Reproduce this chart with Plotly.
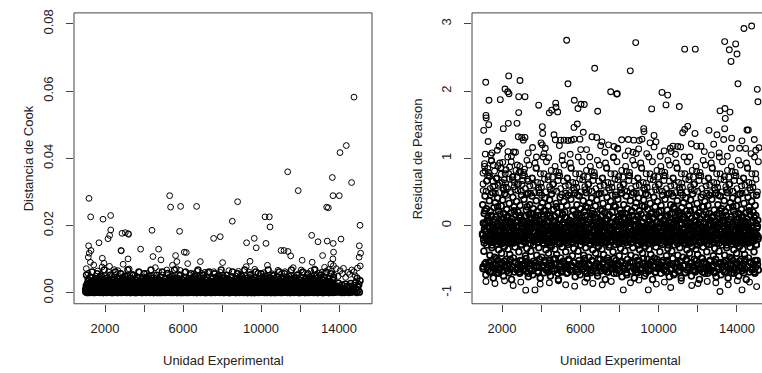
import plotly.graph_objects as go

# ---------------- values read (estimated) from the picture ----------------
# Unit identifiers (Unidad Experimental) shared by both panels
unidad_a = [
    1008, 1037, 1066, 1094, 1125, 1153, 1184, 1211, 1243, 1272,
    1315, 1344, 1371, 1403, 1430, 1462, 1489, 1519, 1548, 1581,
    1603, 1631, 1660, 1688, 1719, 1747, 1776, 1806, 1833, 1864,
    1908, 1937, 1966, 1994, 2025, 2053, 2084, 2111, 2143, 2172,
    2215, 2244, 2271, 2303, 2330, 2362, 2389, 2419, 2448, 2481,
    2503, 2531, 2560, 2588, 2619, 2647, 2676, 2706, 2733, 2764,
    2808, 2837, 2866, 2894, 2925, 2953, 2984, 3011, 3043, 3072,
    3115, 3144, 3171, 3203, 3230, 3262, 3289, 3319, 3348, 3381,
    3403, 3431, 3460, 3488, 3519, 3547, 3576, 3606, 3633, 3664,
    3708, 3737, 3766, 3794, 3825, 3853, 3884, 3911, 3943, 3972,
    4015, 4044, 4071, 4103, 4130, 4162, 4189, 4219, 4248, 4281,
    4303, 4331, 4360, 4388, 4419, 4447, 4476, 4506, 4533, 4564,
    4608, 4637, 4666, 4694, 4725, 4753, 4784, 4811, 4843, 4872,
    4915, 4944, 4971, 5003, 5030, 5062, 5089, 5119, 5148, 5181,
    5203, 5231, 5260, 5288, 5319, 5347, 5376, 5406, 5433, 5464,
    5508, 5537, 5566, 5594, 5625, 5653, 5684, 5711, 5743, 5772,
    5815, 5844, 5871, 5903, 5930, 5962, 5989, 6019, 6048, 6081,
    6103, 6131, 6160, 6188, 6219, 6247, 6276, 6306, 6333, 6364,
    6408, 6437, 6466, 6494, 6525, 6553, 6584, 6611, 6643, 6672,
    6715, 6744, 6771, 6803, 6830, 6862, 6889, 6919, 6948, 6981,
    7003, 7031, 7060, 7088, 7119, 7147, 7176, 7206, 7233, 7264,
    7308, 7337, 7366, 7394, 7425, 7453, 7484, 7511, 7543, 7572,
    7615, 7644, 7671, 7703, 7730, 7762, 7789, 7819, 7848, 7881,
    7903, 7931, 7960, 7988, 8019, 8047, 8076, 8106, 8133, 8164,
    8208, 8237, 8266, 8294, 8325, 8353, 8384, 8411, 8443, 8472,
    8515, 8544, 8571, 8603, 8630, 8662, 8689, 8719, 8748, 8781,
    8803, 8831, 8860, 8888, 8919, 8947, 8976, 9006, 9033, 9064,
    9108, 9137, 9166, 9194, 9225, 9253, 9284, 9311, 9343, 9372,
    9415, 9444, 9471, 9503, 9530, 9562, 9589, 9619, 9648, 9681,
    9703, 9731, 9760, 9788, 9819, 9847, 9876, 9906, 9933, 9964,
    10008, 10037, 10066, 10094, 10125, 10153, 10184, 10211, 10243, 10272,
    10315, 10344, 10371, 10403, 10430, 10462, 10489, 10519, 10548, 10581,
    10603, 10631, 10660, 10688, 10719, 10747, 10776, 10806, 10833, 10864,
    10908, 10937, 10966, 10994, 11025, 11053, 11084, 11111, 11143, 11172,
    11215, 11244, 11271, 11303, 11330, 11362, 11389, 11419, 11448, 11481,
    11503, 11531, 11560, 11588, 11619, 11647, 11676, 11706, 11733, 11764,
    11808, 11837, 11866, 11894, 11925, 11953, 11984, 12011, 12043, 12072,
    12115, 12144, 12171, 12203, 12230, 12262, 12289, 12319, 12348, 12381,
    12403, 12431, 12460, 12488, 12519, 12547, 12576, 12606, 12633, 12664,
    12708, 12737, 12766, 12794, 12825, 12853, 12884, 12911, 12943, 12972,
    13015, 13044, 13071, 13103, 13130, 13162, 13189, 13219, 13248, 13281,
    13303, 13331, 13360, 13388, 13419, 13447, 13476, 13506, 13533, 13564,
    13608, 13637, 13666, 13694, 13725, 13753, 13784, 13811, 13843, 13872,
    13915, 13944, 13971, 14003, 14030, 14062, 14089, 14119, 14148, 14181,
    14203, 14231, 14260, 14288, 14319, 14347, 14376, 14406, 14433, 14464,
    14508, 14537, 14566, 14594, 14625, 14653, 14684, 14711, 14743, 14772,
    14815, 14844, 14871, 14903, 14930, 14962, 14989, 15019, 15048, 15081]

unidad_b = [
    1040, 1130, 1250, 1330, 1420, 1560, 1620, 1740, 1850, 1950, 2060, 2180,
    2230, 2340, 2470, 2540, 2660, 2770, 2810, 2930, 3060, 3150, 3240, 3380,
    3420, 3550, 3670, 3760, 3850, 3980, 4030, 4140, 4270, 4350, 4460, 4580,
    4620, 4750, 4860, 4940, 5050, 5170, 5230, 5340, 5460, 5520, 5650, 5770,
    5850, 5960, 6080, 6120, 6240, 6370, 6440, 6560, 6650, 6730, 6850, 6970,
    7010, 7120, 7260, 7350, 7440, 7580, 7630, 7760, 7870, 7920, 8050, 8170,
    8260, 8350, 8480, 8520, 8640, 8770, 8840, 8950, 9080, 9130, 9240, 9370,
    9450, 9560, 9680, 9720, 9850, 9960, 10040, 10150, 10270, 10330, 10450, 10560,
    10620, 10740, 10870, 10950, 11060, 11180, 11230, 11340, 11470, 11540, 11650, 11770,
    11820, 11940, 12060, 12150, 12260, 12380, 12420, 12550, 12660, 12740, 12850, 12970,
    13030, 13140, 13260, 13340, 13450, 13580, 13620, 13740, 13860, 13950, 14060, 14170,
    14230, 14340, 14470, 14540, 14650, 14770, 14830, 14950, 15090]

unidad_c = [
    1004, 1018, 1033, 1047, 1062, 1076, 1091, 1105, 1121, 1134, 1150, 1163, 1179, 1192, 1208, 1222, 1237, 1251, 1266, 1281,
    1310, 1324, 1339, 1353, 1369, 1382, 1398, 1411, 1427, 1441, 1456, 1470, 1485, 1499, 1514, 1529, 1543, 1558, 1572, 1588,
    1601, 1615, 1629, 1644, 1657, 1673, 1686, 1702, 1715, 1731, 1744, 1760, 1773, 1789, 1802, 1817, 1831, 1846, 1860, 1875,
    1904, 1918, 1933, 1947, 1962, 1976, 1991, 2005, 2021, 2034, 2050, 2063, 2079, 2092, 2108, 2122, 2137, 2151, 2166, 2181,
    2210, 2224, 2239, 2253, 2269, 2282, 2298, 2311, 2327, 2341, 2356, 2370, 2385, 2399, 2414, 2429, 2443, 2458, 2472, 2488,
    2501, 2515, 2529, 2544, 2557, 2573, 2586, 2602, 2615, 2631, 2644, 2660, 2673, 2689, 2702, 2717, 2731, 2746, 2760, 2775,
    2804, 2818, 2833, 2847, 2862, 2876, 2891, 2905, 2921, 2934, 2950, 2963, 2979, 2992, 3008, 3022, 3037, 3051, 3066, 3081,
    3110, 3124, 3139, 3153, 3169, 3182, 3198, 3211, 3227, 3241, 3256, 3270, 3285, 3299, 3314, 3329, 3343, 3358, 3372, 3388,
    3401, 3415, 3429, 3444, 3457, 3473, 3486, 3502, 3515, 3531, 3544, 3560, 3573, 3589, 3602, 3617, 3631, 3646, 3660, 3675,
    3704, 3718, 3733, 3747, 3762, 3776, 3791, 3805, 3821, 3834, 3850, 3863, 3879, 3892, 3908, 3922, 3937, 3951, 3966, 3981,
    4010, 4024, 4039, 4053, 4069, 4082, 4098, 4111, 4127, 4141, 4156, 4170, 4185, 4199, 4214, 4229, 4243, 4258, 4272, 4288,
    4301, 4315, 4329, 4344, 4357, 4373, 4386, 4402, 4415, 4431, 4444, 4460, 4473, 4489, 4502, 4517, 4531, 4546, 4560, 4575,
    4604, 4618, 4633, 4647, 4662, 4676, 4691, 4705, 4721, 4734, 4750, 4763, 4779, 4792, 4808, 4822, 4837, 4851, 4866, 4881,
    4910, 4924, 4939, 4953, 4969, 4982, 4998, 5011, 5027, 5041, 5056, 5070, 5085, 5099, 5114, 5129, 5143, 5158, 5172, 5188,
    5201, 5215, 5229, 5244, 5257, 5273, 5286, 5302, 5315, 5331, 5344, 5360, 5373, 5389, 5402, 5417, 5431, 5446, 5460, 5475,
    5504, 5518, 5533, 5547, 5562, 5576, 5591, 5605, 5621, 5634, 5650, 5663, 5679, 5692, 5708, 5722, 5737, 5751, 5766, 5781,
    5810, 5824, 5839, 5853, 5869, 5882, 5898, 5911, 5927, 5941, 5956, 5970, 5985, 5999, 6014, 6029, 6043, 6058, 6072, 6088,
    6101, 6115, 6129, 6144, 6157, 6173, 6186, 6202, 6215, 6231, 6244, 6260, 6273, 6289, 6302, 6317, 6331, 6346, 6360, 6375,
    6404, 6418, 6433, 6447, 6462, 6476, 6491, 6505, 6521, 6534, 6550, 6563, 6579, 6592, 6608, 6622, 6637, 6651, 6666, 6681,
    6710, 6724, 6739, 6753, 6769, 6782, 6798, 6811, 6827, 6841, 6856, 6870, 6885, 6899, 6914, 6929, 6943, 6958, 6972, 6988,
    7001, 7015, 7029, 7044, 7057, 7073, 7086, 7102, 7115, 7131, 7144, 7160, 7173, 7189, 7202, 7217, 7231, 7246, 7260, 7275,
    7304, 7318, 7333, 7347, 7362, 7376, 7391, 7405, 7421, 7434, 7450, 7463, 7479, 7492, 7508, 7522, 7537, 7551, 7566, 7581,
    7610, 7624, 7639, 7653, 7669, 7682, 7698, 7711, 7727, 7741, 7756, 7770, 7785, 7799, 7814, 7829, 7843, 7858, 7872, 7888,
    7901, 7915, 7929, 7944, 7957, 7973, 7986, 8002, 8015, 8031, 8044, 8060, 8073, 8089, 8102, 8117, 8131, 8146, 8160, 8175,
    8204, 8218, 8233, 8247, 8262, 8276, 8291, 8305, 8321, 8334, 8350, 8363, 8379, 8392, 8408, 8422, 8437, 8451, 8466, 8481,
    8510, 8524, 8539, 8553, 8569, 8582, 8598, 8611, 8627, 8641, 8656, 8670, 8685, 8699, 8714, 8729, 8743, 8758, 8772, 8788,
    8801, 8815, 8829, 8844, 8857, 8873, 8886, 8902, 8915, 8931, 8944, 8960, 8973, 8989, 9002, 9017, 9031, 9046, 9060, 9075,
    9104, 9118, 9133, 9147, 9162, 9176, 9191, 9205, 9221, 9234, 9250, 9263, 9279, 9292, 9308, 9322, 9337, 9351, 9366, 9381,
    9410, 9424, 9439, 9453, 9469, 9482, 9498, 9511, 9527, 9541, 9556, 9570, 9585, 9599, 9614, 9629, 9643, 9658, 9672, 9688,
    9701, 9715, 9729, 9744, 9757, 9773, 9786, 9802, 9815, 9831, 9844, 9860, 9873, 9889, 9902, 9917, 9931, 9946, 9960, 9975,
    10004, 10018, 10033, 10047, 10062, 10076, 10091, 10105, 10121, 10134, 10150, 10163, 10179, 10192, 10208, 10222, 10237, 10251, 10266, 10281,
    10310, 10324, 10339, 10353, 10369, 10382, 10398, 10411, 10427, 10441, 10456, 10470, 10485, 10499, 10514, 10529, 10543, 10558, 10572, 10588,
    10601, 10615, 10629, 10644, 10657, 10673, 10686, 10702, 10715, 10731, 10744, 10760, 10773, 10789, 10802, 10817, 10831, 10846, 10860, 10875,
    10904, 10918, 10933, 10947, 10962, 10976, 10991, 11005, 11021, 11034, 11050, 11063, 11079, 11092, 11108, 11122, 11137, 11151, 11166, 11181,
    11210, 11224, 11239, 11253, 11269, 11282, 11298, 11311, 11327, 11341, 11356, 11370, 11385, 11399, 11414, 11429, 11443, 11458, 11472, 11488,
    11501, 11515, 11529, 11544, 11557, 11573, 11586, 11602, 11615, 11631, 11644, 11660, 11673, 11689, 11702, 11717, 11731, 11746, 11760, 11775,
    11804, 11818, 11833, 11847, 11862, 11876, 11891, 11905, 11921, 11934, 11950, 11963, 11979, 11992, 12008, 12022, 12037, 12051, 12066, 12081,
    12110, 12124, 12139, 12153, 12169, 12182, 12198, 12211, 12227, 12241, 12256, 12270, 12285, 12299, 12314, 12329, 12343, 12358, 12372, 12388,
    12401, 12415, 12429, 12444, 12457, 12473, 12486, 12502, 12515, 12531, 12544, 12560, 12573, 12589, 12602, 12617, 12631, 12646, 12660, 12675,
    12704, 12718, 12733, 12747, 12762, 12776, 12791, 12805, 12821, 12834, 12850, 12863, 12879, 12892, 12908, 12922, 12937, 12951, 12966, 12981,
    13010, 13024, 13039, 13053, 13069, 13082, 13098, 13111, 13127, 13141, 13156, 13170, 13185, 13199, 13214, 13229, 13243, 13258, 13272, 13288,
    13301, 13315, 13329, 13344, 13357, 13373, 13386, 13402, 13415, 13431, 13444, 13460, 13473, 13489, 13502, 13517, 13531, 13546, 13560, 13575,
    13604, 13618, 13633, 13647, 13662, 13676, 13691, 13705, 13721, 13734, 13750, 13763, 13779, 13792, 13808, 13822, 13837, 13851, 13866, 13881,
    13910, 13924, 13939, 13953, 13969, 13982, 13998, 14011, 14027, 14041, 14056, 14070, 14085, 14099, 14114, 14129, 14143, 14158, 14172, 14188,
    14201, 14215, 14229, 14244, 14257, 14273, 14286, 14302, 14315, 14331, 14344, 14360, 14373, 14389, 14402, 14417, 14431, 14446, 14460, 14475,
    14504, 14518, 14533, 14547, 14562, 14576, 14591, 14605, 14621, 14634, 14650, 14663, 14679, 14692, 14708, 14722, 14737, 14751, 14766, 14781,
    14810, 14824, 14839, 14853, 14869, 14882, 14898, 14911, 14927, 14941, 14956, 14970, 14985, 14999, 15014, 15029, 15043, 15058, 15072, 15088]

# ---------------- Cook's distance ----------------
cook_out_x = [
    14769, 14374, 14051, 11368, 13657, 14646, 11908, 13692, 14015, 1179,
    5316, 5364, 5877, 6697, 8800, 13368, 13453, 1265, 1897, 2290,
    8528, 10205, 10427, 10461, 15077, 5825, 4410, 2295, 2239, 2154,
    2872, 3042, 3195, 3210, 7570, 7909, 12599, 14102, 1692, 1159,
    2820, 2835, 3825, 4748, 9261, 9756, 9653, 10256, 11026, 11180,
    11385, 11522, 12923, 13395, 13703, 15041, 15108, 15030, 13720, 13688,
    13715, 8031, 12112, 12625, 13159, 6066, 6169, 9436, 6888, 5620,
    5687, 3180, 4461, 4871, 1862, 1141, 1192, 1282]
cook_out_y = [
    0.0582, 0.0438, 0.0417, 0.0360, 0.0343, 0.0328, 0.0304, 0.0289, 0.0289, 0.0281,
    0.0289, 0.0255, 0.0257, 0.0257, 0.0271, 0.0255, 0.0253, 0.0226, 0.0219, 0.0230,
    0.0213, 0.0226, 0.0226, 0.0196, 0.0201, 0.0183, 0.0186, 0.0187, 0.0171, 0.0161,
    0.0177, 0.0179, 0.0176, 0.0174, 0.0162, 0.0167, 0.0171, 0.0160, 0.0149, 0.0140,
    0.0126, 0.0125, 0.0130, 0.0130, 0.0149, 0.0134, 0.0162, 0.0147, 0.0126, 0.0126,
    0.0123, 0.0110, 0.0152, 0.0154, 0.0147, 0.0140, 0.0118, 0.0106, 0.0121, 0.0101,
    0.0081, 0.0090, 0.0097, 0.0091, 0.0111, 0.0121, 0.0120, 0.0094, 0.0093, 0.0111,
    0.0093, 0.0101, 0.0108, 0.0098, 0.0103, 0.0106, 0.0118, 0.0126]

cook_mid_y = [  # paired with unidad_b
    0.0072, 0.0058, 0.0091, 0.0046, 0.0083, 0.0039, 0.0065, 0.0051, 0.0077, 0.0088, 0.0043, 0.0062,
    0.0079, 0.0054, 0.0069, 0.0041, 0.0066, 0.0048, 0.0057, 0.0085, 0.0038, 0.0049, 0.0071, 0.0056,
    0.0036, 0.0052, 0.0044, 0.0061, 0.0039, 0.0047, 0.0034, 0.0058, 0.0042, 0.0050, 0.0037, 0.0075,
    0.0045, 0.0063, 0.0035, 0.0053, 0.0041, 0.0068, 0.0059, 0.0048, 0.0082, 0.0044, 0.0072, 0.0055,
    0.0067, 0.0038, 0.0061, 0.0046, 0.0087, 0.0052, 0.0040, 0.0057, 0.0049, 0.0064, 0.0036, 0.0058,
    0.0052, 0.0061, 0.0060, 0.0037, 0.0048, 0.0063, 0.0056, 0.0042, 0.0039, 0.0061, 0.0053, 0.0045,
    0.0043, 0.0066, 0.0035, 0.0049, 0.0037, 0.0058, 0.0064, 0.0054, 0.0041, 0.0036, 0.0078, 0.0062,
    0.0055, 0.0045, 0.0070, 0.0047, 0.0059, 0.0051, 0.0038, 0.0060, 0.0043, 0.0082, 0.0046, 0.0057,
    0.0050, 0.0039, 0.0067, 0.0041, 0.0058, 0.0048, 0.0063, 0.0044, 0.0036, 0.0052, 0.0075, 0.0047,
    0.0039, 0.0057, 0.0068, 0.0060, 0.0042, 0.0053, 0.0048, 0.0065, 0.0044, 0.0071, 0.0050, 0.0059,
    0.0045, 0.0062, 0.0076, 0.0058, 0.0069, 0.0086, 0.0064, 0.0053, 0.0072, 0.0049, 0.0066, 0.0057,
    0.0073, 0.0046, 0.0061, 0.0055, 0.0068, 0.0063, 0.0051, 0.0074, 0.0080]

cook_band_y = [  # paired with unidad_a
    0.0003, 0.0012, 0.0001, 0.0021, 0.0006, 0.0015, 0.0002, 0.0028, 0.0009, 0.0004,
    0.0018, 0.0002, 0.0007, 0.0001, 0.0024, 0.0011, 0.0005, 0.0003, 0.0016, 0.0031,
    0.0005, 0.0026, 0.0013, 0.0002, 0.0008, 0.0001, 0.0019, 0.0010, 0.0004, 0.0022,
    0.0001, 0.0009, 0.0030, 0.0017, 0.0003, 0.0006, 0.0012, 0.0002, 0.0025, 0.0007,
    0.0014, 0.0004, 0.0002, 0.0010, 0.0027, 0.0001, 0.0008, 0.0020, 0.0005, 0.0013,
    0.0002, 0.0019, 0.0006, 0.0029, 0.0001, 0.0011, 0.0004, 0.0015, 0.0007, 0.0023,
    0.0008, 0.0001, 0.0016, 0.0005, 0.0012, 0.0032, 0.0003, 0.0009, 0.0021, 0.0002,
    0.0011, 0.0024, 0.0003, 0.0007, 0.0002, 0.0018, 0.0026, 0.0001, 0.0010, 0.0005,
    0.0004, 0.0013, 0.0002, 0.0022, 0.0007, 0.0014, 0.0001, 0.0027, 0.0010, 0.0003,
    0.0017, 0.0003, 0.0008, 0.0002, 0.0025, 0.0012, 0.0004, 0.0001, 0.0015, 0.0030,
    0.0006, 0.0027, 0.0012, 0.0001, 0.0009, 0.0002, 0.0020, 0.0011, 0.0003, 0.0021,
    0.0002, 0.0010, 0.0029, 0.0016, 0.0004, 0.0005, 0.0013, 0.0001, 0.0024, 0.0008,
    0.0013, 0.0005, 0.0001, 0.0011, 0.0026, 0.0002, 0.0007, 0.0019, 0.0004, 0.0014,
    0.0001, 0.0020, 0.0005, 0.0028, 0.0002, 0.0010, 0.0003, 0.0016, 0.0006, 0.0022,
    0.0009, 0.0002, 0.0015, 0.0004, 0.0013, 0.0031, 0.0001, 0.0008, 0.0022, 0.0003,
    0.0010, 0.0025, 0.0002, 0.0006, 0.0003, 0.0017, 0.0027, 0.0001, 0.0011, 0.0004,
    0.0003, 0.0012, 0.0001, 0.0021, 0.0006, 0.0015, 0.0002, 0.0028, 0.0009, 0.0004,
    0.0018, 0.0002, 0.0007, 0.0001, 0.0024, 0.0011, 0.0005, 0.0003, 0.0016, 0.0031,
    0.0005, 0.0026, 0.0013, 0.0002, 0.0008, 0.0001, 0.0019, 0.0010, 0.0004, 0.0022,
    0.0001, 0.0009, 0.0030, 0.0017, 0.0003, 0.0006, 0.0012, 0.0002, 0.0025, 0.0007,
    0.0014, 0.0004, 0.0002, 0.0010, 0.0027, 0.0001, 0.0008, 0.0020, 0.0005, 0.0013,
    0.0002, 0.0019, 0.0006, 0.0029, 0.0001, 0.0011, 0.0004, 0.0015, 0.0007, 0.0023,
    0.0008, 0.0001, 0.0016, 0.0005, 0.0012, 0.0032, 0.0003, 0.0009, 0.0021, 0.0002,
    0.0011, 0.0024, 0.0003, 0.0007, 0.0002, 0.0018, 0.0026, 0.0001, 0.0010, 0.0005,
    0.0004, 0.0013, 0.0002, 0.0022, 0.0007, 0.0014, 0.0001, 0.0027, 0.0010, 0.0003,
    0.0017, 0.0003, 0.0008, 0.0002, 0.0025, 0.0012, 0.0004, 0.0001, 0.0015, 0.0030,
    0.0006, 0.0027, 0.0012, 0.0001, 0.0009, 0.0002, 0.0020, 0.0011, 0.0003, 0.0021,
    0.0002, 0.0010, 0.0029, 0.0016, 0.0004, 0.0005, 0.0013, 0.0001, 0.0024, 0.0008,
    0.0013, 0.0005, 0.0001, 0.0011, 0.0026, 0.0002, 0.0007, 0.0019, 0.0004, 0.0014,
    0.0001, 0.0020, 0.0005, 0.0028, 0.0002, 0.0010, 0.0003, 0.0016, 0.0006, 0.0022,
    0.0009, 0.0002, 0.0015, 0.0004, 0.0013, 0.0031, 0.0001, 0.0008, 0.0022, 0.0003,
    0.0010, 0.0025, 0.0002, 0.0006, 0.0003, 0.0017, 0.0027, 0.0001, 0.0011, 0.0004,
    0.0003, 0.0012, 0.0001, 0.0021, 0.0006, 0.0015, 0.0002, 0.0028, 0.0009, 0.0004,
    0.0018, 0.0002, 0.0007, 0.0001, 0.0024, 0.0011, 0.0005, 0.0003, 0.0016, 0.0031,
    0.0005, 0.0026, 0.0013, 0.0002, 0.0008, 0.0001, 0.0019, 0.0010, 0.0004, 0.0022,
    0.0001, 0.0009, 0.0030, 0.0017, 0.0003, 0.0006, 0.0012, 0.0002, 0.0025, 0.0007,
    0.0014, 0.0004, 0.0002, 0.0010, 0.0027, 0.0001, 0.0008, 0.0020, 0.0005, 0.0013,
    0.0002, 0.0019, 0.0006, 0.0029, 0.0001, 0.0011, 0.0004, 0.0015, 0.0007, 0.0023,
    0.0008, 0.0001, 0.0016, 0.0005, 0.0012, 0.0032, 0.0003, 0.0009, 0.0021, 0.0002,
    0.0011, 0.0024, 0.0003, 0.0007, 0.0002, 0.0018, 0.0026, 0.0001, 0.0010, 0.0005,
    0.0004, 0.0013, 0.0002, 0.0022, 0.0007, 0.0014, 0.0001, 0.0027, 0.0010, 0.0003,
    0.0017, 0.0003, 0.0008, 0.0002, 0.0025, 0.0012, 0.0004, 0.0001, 0.0015, 0.0030,
    0.0006, 0.0027, 0.0012, 0.0001, 0.0009, 0.0002, 0.0020, 0.0011, 0.0003, 0.0021,
    0.0002, 0.0010, 0.0029, 0.0016, 0.0004, 0.0005, 0.0013, 0.0001, 0.0024, 0.0008,
    0.0013, 0.0005, 0.0001, 0.0011, 0.0026, 0.0002, 0.0007, 0.0019, 0.0004, 0.0014,
    0.0001, 0.0020, 0.0005, 0.0028, 0.0002, 0.0010, 0.0003, 0.0016, 0.0006, 0.0022]

cook_core_y = [  # paired with unidad_c
    0.0004, 0.0031, 0.0012, 0.0001, 0.0044, 0.0018, 0.0007, 0.0025, 0.0002, 0.0036, 0.0010, 0.0005, 0.0021, 0.0053, 0.0003, 0.0015, 0.0028, 0.0008, 0.0001, 0.0040,
    0.0019, 0.0002, 0.0038, 0.0009, 0.0024, 0.0001, 0.0013, 0.0047, 0.0006, 0.0030, 0.0003, 0.0016, 0.0062, 0.0011, 0.0026, 0.0004, 0.0034, 0.0008, 0.0020, 0.0002,
    0.0007, 0.0027, 0.0001, 0.0042, 0.0014, 0.0005, 0.0033, 0.0010, 0.0023, 0.0002, 0.0057, 0.0017, 0.0006, 0.0029, 0.0012, 0.0039, 0.0003, 0.0022, 0.0046, 0.0009,
    0.0011, 0.0035, 0.0004, 0.0017, 0.0002, 0.0050, 0.0026, 0.0008, 0.0041, 0.0014, 0.0001, 0.0032, 0.0019, 0.0005, 0.0068, 0.0024, 0.0009, 0.0037, 0.0003, 0.0015,
    0.0004, 0.0031, 0.0012, 0.0001, 0.0044, 0.0018, 0.0007, 0.0025, 0.0002, 0.0036, 0.0010, 0.0005, 0.0021, 0.0053, 0.0003, 0.0015, 0.0028, 0.0008, 0.0001, 0.0040,
    0.0019, 0.0002, 0.0038, 0.0009, 0.0024, 0.0001, 0.0013, 0.0047, 0.0006, 0.0030, 0.0003, 0.0016, 0.0062, 0.0011, 0.0026, 0.0004, 0.0034, 0.0008, 0.0020, 0.0002,
    0.0007, 0.0027, 0.0001, 0.0042, 0.0014, 0.0005, 0.0033, 0.0010, 0.0023, 0.0002, 0.0057, 0.0017, 0.0006, 0.0029, 0.0012, 0.0039, 0.0003, 0.0022, 0.0046, 0.0009,
    0.0011, 0.0035, 0.0004, 0.0017, 0.0002, 0.0050, 0.0026, 0.0008, 0.0041, 0.0014, 0.0001, 0.0032, 0.0019, 0.0005, 0.0068, 0.0024, 0.0009, 0.0037, 0.0003, 0.0015,
    0.0004, 0.0031, 0.0012, 0.0001, 0.0044, 0.0018, 0.0007, 0.0025, 0.0002, 0.0036, 0.0010, 0.0005, 0.0021, 0.0053, 0.0003, 0.0015, 0.0028, 0.0008, 0.0001, 0.0040,
    0.0019, 0.0002, 0.0038, 0.0009, 0.0024, 0.0001, 0.0013, 0.0047, 0.0006, 0.0030, 0.0003, 0.0016, 0.0062, 0.0011, 0.0026, 0.0004, 0.0034, 0.0008, 0.0020, 0.0002,
    0.0007, 0.0027, 0.0001, 0.0042, 0.0014, 0.0005, 0.0033, 0.0010, 0.0023, 0.0002, 0.0057, 0.0017, 0.0006, 0.0029, 0.0012, 0.0039, 0.0003, 0.0022, 0.0046, 0.0009,
    0.0011, 0.0035, 0.0004, 0.0017, 0.0002, 0.0050, 0.0026, 0.0008, 0.0041, 0.0014, 0.0001, 0.0032, 0.0019, 0.0005, 0.0068, 0.0024, 0.0009, 0.0037, 0.0003, 0.0015,
    0.0004, 0.0031, 0.0012, 0.0001, 0.0044, 0.0018, 0.0007, 0.0025, 0.0002, 0.0036, 0.0010, 0.0005, 0.0021, 0.0053, 0.0003, 0.0015, 0.0028, 0.0008, 0.0001, 0.0040,
    0.0019, 0.0002, 0.0038, 0.0009, 0.0024, 0.0001, 0.0013, 0.0047, 0.0006, 0.0030, 0.0003, 0.0016, 0.0062, 0.0011, 0.0026, 0.0004, 0.0034, 0.0008, 0.0020, 0.0002,
    0.0007, 0.0027, 0.0001, 0.0042, 0.0014, 0.0005, 0.0033, 0.0010, 0.0023, 0.0002, 0.0057, 0.0017, 0.0006, 0.0029, 0.0012, 0.0039, 0.0003, 0.0022, 0.0046, 0.0009,
    0.0011, 0.0035, 0.0004, 0.0017, 0.0002, 0.0050, 0.0026, 0.0008, 0.0041, 0.0014, 0.0001, 0.0032, 0.0019, 0.0005, 0.0068, 0.0024, 0.0009, 0.0037, 0.0003, 0.0015,
    0.0004, 0.0031, 0.0012, 0.0001, 0.0044, 0.0018, 0.0007, 0.0025, 0.0002, 0.0036, 0.0010, 0.0005, 0.0021, 0.0053, 0.0003, 0.0015, 0.0028, 0.0008, 0.0001, 0.0040,
    0.0019, 0.0002, 0.0038, 0.0009, 0.0024, 0.0001, 0.0013, 0.0047, 0.0006, 0.0030, 0.0003, 0.0016, 0.0062, 0.0011, 0.0026, 0.0004, 0.0034, 0.0008, 0.0020, 0.0002,
    0.0007, 0.0027, 0.0001, 0.0042, 0.0014, 0.0005, 0.0033, 0.0010, 0.0023, 0.0002, 0.0057, 0.0017, 0.0006, 0.0029, 0.0012, 0.0039, 0.0003, 0.0022, 0.0046, 0.0009,
    0.0011, 0.0035, 0.0004, 0.0017, 0.0002, 0.0050, 0.0026, 0.0008, 0.0041, 0.0014, 0.0001, 0.0032, 0.0019, 0.0005, 0.0068, 0.0024, 0.0009, 0.0037, 0.0003, 0.0015,
    0.0004, 0.0031, 0.0012, 0.0001, 0.0044, 0.0018, 0.0007, 0.0025, 0.0002, 0.0036, 0.0010, 0.0005, 0.0021, 0.0053, 0.0003, 0.0015, 0.0028, 0.0008, 0.0001, 0.0040,
    0.0019, 0.0002, 0.0038, 0.0009, 0.0024, 0.0001, 0.0013, 0.0047, 0.0006, 0.0030, 0.0003, 0.0016, 0.0062, 0.0011, 0.0026, 0.0004, 0.0034, 0.0008, 0.0020, 0.0002,
    0.0007, 0.0027, 0.0001, 0.0042, 0.0014, 0.0005, 0.0033, 0.0010, 0.0023, 0.0002, 0.0057, 0.0017, 0.0006, 0.0029, 0.0012, 0.0039, 0.0003, 0.0022, 0.0046, 0.0009,
    0.0011, 0.0035, 0.0004, 0.0017, 0.0002, 0.0050, 0.0026, 0.0008, 0.0041, 0.0014, 0.0001, 0.0032, 0.0019, 0.0005, 0.0068, 0.0024, 0.0009, 0.0037, 0.0003, 0.0015,
    0.0004, 0.0031, 0.0012, 0.0001, 0.0044, 0.0018, 0.0007, 0.0025, 0.0002, 0.0036, 0.0010, 0.0005, 0.0021, 0.0053, 0.0003, 0.0015, 0.0028, 0.0008, 0.0001, 0.0040,
    0.0019, 0.0002, 0.0038, 0.0009, 0.0024, 0.0001, 0.0013, 0.0047, 0.0006, 0.0030, 0.0003, 0.0016, 0.0062, 0.0011, 0.0026, 0.0004, 0.0034, 0.0008, 0.0020, 0.0002,
    0.0007, 0.0027, 0.0001, 0.0042, 0.0014, 0.0005, 0.0033, 0.0010, 0.0023, 0.0002, 0.0057, 0.0017, 0.0006, 0.0029, 0.0012, 0.0039, 0.0003, 0.0022, 0.0046, 0.0009,
    0.0011, 0.0035, 0.0004, 0.0017, 0.0002, 0.0050, 0.0026, 0.0008, 0.0041, 0.0014, 0.0001, 0.0032, 0.0019, 0.0005, 0.0068, 0.0024, 0.0009, 0.0037, 0.0003, 0.0015,
    0.0004, 0.0031, 0.0012, 0.0001, 0.0044, 0.0018, 0.0007, 0.0025, 0.0002, 0.0036, 0.0010, 0.0005, 0.0021, 0.0053, 0.0003, 0.0015, 0.0028, 0.0008, 0.0001, 0.0040,
    0.0019, 0.0002, 0.0038, 0.0009, 0.0024, 0.0001, 0.0013, 0.0047, 0.0006, 0.0030, 0.0003, 0.0016, 0.0062, 0.0011, 0.0026, 0.0004, 0.0034, 0.0008, 0.0020, 0.0002,
    0.0007, 0.0027, 0.0001, 0.0042, 0.0014, 0.0005, 0.0033, 0.0010, 0.0023, 0.0002, 0.0057, 0.0017, 0.0006, 0.0029, 0.0012, 0.0039, 0.0003, 0.0022, 0.0046, 0.0009,
    0.0011, 0.0035, 0.0004, 0.0017, 0.0002, 0.0050, 0.0026, 0.0008, 0.0041, 0.0014, 0.0001, 0.0032, 0.0019, 0.0005, 0.0068, 0.0024, 0.0009, 0.0037, 0.0003, 0.0015,
    0.0004, 0.0031, 0.0012, 0.0001, 0.0044, 0.0018, 0.0007, 0.0025, 0.0002, 0.0036, 0.0010, 0.0005, 0.0021, 0.0053, 0.0003, 0.0015, 0.0028, 0.0008, 0.0001, 0.0040,
    0.0019, 0.0002, 0.0038, 0.0009, 0.0024, 0.0001, 0.0013, 0.0047, 0.0006, 0.0030, 0.0003, 0.0016, 0.0062, 0.0011, 0.0026, 0.0004, 0.0034, 0.0008, 0.0020, 0.0002,
    0.0007, 0.0027, 0.0001, 0.0042, 0.0014, 0.0005, 0.0033, 0.0010, 0.0023, 0.0002, 0.0057, 0.0017, 0.0006, 0.0029, 0.0012, 0.0039, 0.0003, 0.0022, 0.0046, 0.0009,
    0.0011, 0.0035, 0.0004, 0.0017, 0.0002, 0.0050, 0.0026, 0.0008, 0.0041, 0.0014, 0.0001, 0.0032, 0.0019, 0.0005, 0.0068, 0.0024, 0.0009, 0.0037, 0.0003, 0.0015,
    0.0004, 0.0031, 0.0012, 0.0001, 0.0044, 0.0018, 0.0007, 0.0025, 0.0002, 0.0036, 0.0010, 0.0005, 0.0021, 0.0053, 0.0003, 0.0015, 0.0028, 0.0008, 0.0001, 0.0040,
    0.0019, 0.0002, 0.0038, 0.0009, 0.0024, 0.0001, 0.0013, 0.0047, 0.0006, 0.0030, 0.0003, 0.0016, 0.0062, 0.0011, 0.0026, 0.0004, 0.0034, 0.0008, 0.0020, 0.0002,
    0.0007, 0.0027, 0.0001, 0.0042, 0.0014, 0.0005, 0.0033, 0.0010, 0.0023, 0.0002, 0.0057, 0.0017, 0.0006, 0.0029, 0.0012, 0.0039, 0.0003, 0.0022, 0.0046, 0.0009,
    0.0011, 0.0035, 0.0004, 0.0017, 0.0002, 0.0050, 0.0026, 0.0008, 0.0041, 0.0014, 0.0001, 0.0032, 0.0019, 0.0005, 0.0068, 0.0024, 0.0009, 0.0037, 0.0003, 0.0015,
    0.0004, 0.0031, 0.0012, 0.0001, 0.0044, 0.0018, 0.0007, 0.0025, 0.0002, 0.0036, 0.0010, 0.0005, 0.0021, 0.0053, 0.0003, 0.0015, 0.0028, 0.0008, 0.0001, 0.0040,
    0.0019, 0.0002, 0.0038, 0.0009, 0.0024, 0.0001, 0.0013, 0.0047, 0.0006, 0.0030, 0.0003, 0.0016, 0.0062, 0.0011, 0.0026, 0.0004, 0.0034, 0.0008, 0.0020, 0.0002,
    0.0007, 0.0027, 0.0001, 0.0042, 0.0014, 0.0005, 0.0033, 0.0010, 0.0023, 0.0002, 0.0057, 0.0017, 0.0006, 0.0029, 0.0012, 0.0039, 0.0003, 0.0022, 0.0046, 0.0009]

# ---------------- Pearson residuals ----------------
pearson_high_x = [
    5303, 6733, 1168, 2342, 2919, 5370, 2153, 2291, 2357, 2853,
    3174, 7550, 7856, 1336, 1913, 3874, 4742, 4757, 4538, 4415,
    4844, 5692, 5880, 6034, 6202, 6886, 2853, 1183, 1190, 1321,
    1066, 2066, 2322, 2766, 4059, 4077, 5676, 5845, 6151, 2832,
    3006, 3174, 4655, 4722, 4997, 5166, 5370, 5540, 5676, 5982,
    6595, 6835, 7106, 7039, 7719, 7907, 3991, 4059, 4211, 4145,
    1147, 1489, 2306, 2597, 14356, 14749, 8827, 11329, 11870, 13371,
    13933, 13606, 14000, 13694, 8551, 14050, 15036, 15071, 7887, 10170,
    10462, 10374, 9643, 11054, 13132, 13386, 13642, 13402, 13371, 9237,
    9252, 11329, 11483, 11227, 11854, 12570, 12979, 14510, 14884, 15122,
    9763, 9865, 9763, 10732, 10971, 10595, 11666, 11941, 12161, 13728,
    13711, 13320, 14255, 14443, 8112, 8449, 8725, 9011, 9148, 7907,
    8449, 8689, 14578]
pearson_high_y = [
    2.755, 2.338, 2.130, 2.225, 2.157, 2.108, 2.030, 1.990, 1.960, 1.916,
    1.916, 1.990, 1.956, 1.863, 1.872, 1.790, 1.820, 1.760, 1.716, 1.676,
    1.690, 1.863, 1.740, 1.804, 1.800, 1.700, 1.680, 1.637, 1.600, 1.500,
    1.416, 1.441, 1.520, 1.520, 1.470, 1.370, 1.460, 1.510, 1.387, 1.320,
    1.310, 1.310, 1.350, 1.275, 1.270, 1.270, 1.265, 1.270, 1.285, 1.285,
    1.320, 1.310, 1.245, 1.187, 1.176, 1.137, 1.230, 1.200, 1.150, 1.070,
    1.063, 1.080, 1.100, 1.094, 2.930, 2.966, 2.720, 2.623, 2.623, 2.735,
    2.700, 2.613, 2.550, 2.440, 2.300, 2.108, 2.025, 1.840, 1.960, 1.980,
    1.940, 1.794, 1.735, 1.770, 1.706, 1.740, 1.687, 1.593, 1.440, 1.440,
    1.397, 1.430, 1.475, 1.380, 1.370, 1.416, 1.350, 1.420, 1.280, 1.157,
    1.340, 1.245, 1.170, 1.180, 1.176, 1.150, 1.216, 1.180, 1.180, 1.300,
    1.150, 1.280, 1.260, 1.147, 1.275, 1.280, 1.270, 1.265, 1.285, 1.150,
    1.110, 1.090, 1.420]

pearson_upper_x = [
    1420, 1760, 2010, 2480, 3340, 3560, 4380, 4930, 5480, 6320,
    6480, 7260, 7440, 8290, 8980, 9390, 9560, 10080, 10280, 10860,
    11120, 11590, 12330, 12690, 12810, 13090, 13510, 14130, 14720, 14960,
    1290, 1850, 2690, 3090, 3760, 5090, 6020, 7690, 8850, 10640]
pearson_upper_y = [
    1.05, 1.12, 1.22, 1.03, 1.08, 1.16, 1.01, 1.19, 1.06, 1.13,
    1.02, 1.09, 1.20, 1.04, 1.14, 1.07, 1.23, 1.03, 1.11, 1.06,
    1.17, 1.02, 1.10, 1.05, 1.21, 1.08, 1.03, 1.15, 1.07, 1.12,
    1.25, 1.18, 1.09, 1.27, 1.02, 1.04, 1.13, 1.01, 1.07, 1.10]

pearson_left_x = [
    1030, 1110, 1210, 1270, 1380, 1450, 1530, 1620, 1700, 1790, 1880, 1960,
    2040, 2120, 2210, 2290, 2390, 2530, 2640, 2780, 2870, 3020, 3150, 3300]
pearson_left_y = [
    0.78, 0.92, 0.66, 0.85, 0.73, 0.96, 0.58, 0.81, 0.70, 0.89, 0.63, 0.76,
    0.94, 0.68, 0.83, 0.55, 0.87, 0.72, 0.64, 0.90, 0.79, 0.61, 0.84, 0.69]

pearson_mid_x = [
    1035, 1110, 1190, 1262, 1312, 1396, 1471, 1543, 1658, 1731, 1814, 1887,
    1935, 2010, 2090, 2162, 2212, 2296, 2371, 2443, 2558, 2631, 2714, 2787,
    2835, 2910, 2990, 3062, 3112, 3196, 3271, 3343, 3458, 3531, 3614, 3687,
    3735, 3810, 3890, 3962, 4012, 4096, 4171, 4243, 4358, 4431, 4514, 4587,
    4635, 4710, 4790, 4862, 4912, 4996, 5071, 5143, 5258, 5331, 5414, 5487,
    5535, 5610, 5690, 5762, 5812, 5896, 5971, 6043, 6158, 6231, 6314, 6387,
    6435, 6510, 6590, 6662, 6712, 6796, 6871, 6943, 7058, 7131, 7214, 7287,
    7335, 7410, 7490, 7562, 7612, 7696, 7771, 7843, 7958, 8031, 8114, 8187,
    8235, 8310, 8390, 8462, 8512, 8596, 8671, 8743, 8858, 8931, 9014, 9087,
    9135, 9210, 9290, 9362, 9412, 9496, 9571, 9643, 9758, 9831, 9914, 9987,
    10035, 10110, 10190, 10262, 10312, 10396, 10471, 10543, 10658, 10731, 10814, 10887,
    10935, 11010, 11090, 11162, 11212, 11296, 11371, 11443, 11558, 11631, 11714, 11787,
    11835, 11910, 11990, 12062, 12112, 12196, 12271, 12343, 12458, 12531, 12614, 12687,
    12735, 12810, 12890, 12962, 13012, 13096, 13171, 13243, 13358, 13431, 13514, 13587,
    13635, 13710, 13790, 13862, 13912, 13996, 14071, 14143, 14258, 14331, 14414, 14487,
    14535, 14610, 14690, 14762, 14812, 14896, 14971, 15043]
pearson_mid_y = [
    0.62, 0.88, 0.51, 0.74, 0.79, 0.55, 0.97, 0.66, 0.48, 0.71, 0.60, 0.93,
    0.85, 0.64, 0.53, 0.77, 0.57, 1.02, 0.69, 0.50, 0.73, 0.58, 0.82, 0.61,
    0.62, 0.88, 0.51, 0.74, 0.79, 0.55, 0.97, 0.66, 0.48, 0.71, 0.60, 0.93,
    0.85, 0.64, 0.53, 0.77, 0.57, 1.02, 0.69, 0.50, 0.73, 0.58, 0.82, 0.61,
    0.62, 0.88, 0.51, 0.74, 0.79, 0.55, 0.97, 0.66, 0.48, 0.71, 0.60, 0.93,
    0.85, 0.64, 0.53, 0.77, 0.57, 1.02, 0.69, 0.50, 0.73, 0.58, 0.82, 0.61,
    0.62, 0.88, 0.51, 0.74, 0.79, 0.55, 0.97, 0.66, 0.48, 0.71, 0.60, 0.93,
    0.85, 0.64, 0.53, 0.77, 0.57, 1.02, 0.69, 0.50, 0.73, 0.58, 0.82, 0.61,
    0.62, 0.88, 0.51, 0.74, 0.79, 0.55, 0.97, 0.66, 0.48, 0.71, 0.60, 0.93,
    0.85, 0.64, 0.53, 0.77, 0.57, 1.02, 0.69, 0.50, 0.73, 0.58, 0.82, 0.61,
    0.62, 0.88, 0.51, 0.74, 0.79, 0.55, 0.97, 0.66, 0.48, 0.71, 0.60, 0.93,
    0.85, 0.64, 0.53, 0.77, 0.57, 1.02, 0.69, 0.50, 0.73, 0.58, 0.82, 0.61,
    0.62, 0.88, 0.51, 0.74, 0.79, 0.55, 0.97, 0.66, 0.48, 0.71, 0.60, 0.93,
    0.85, 0.64, 0.53, 0.77, 0.57, 1.02, 0.69, 0.50, 0.73, 0.58, 0.82, 0.61,
    0.62, 0.88, 0.51, 0.74, 0.79, 0.55, 0.97, 0.66, 0.48, 0.71, 0.60, 0.93,
    0.85, 0.64, 0.53, 0.77, 0.57, 1.02, 0.69, 0.50]

pearson_mid2_y = [  # paired with unidad_b
    0.52, 0.81, 0.67, 0.74, 0.46, 0.90, 0.59, 0.70, 0.49, 0.86, 0.56, 0.63,
    0.45, 0.77, 0.95, 0.68, 0.53, 0.72, 0.52, 0.81, 0.67, 0.74, 0.46, 0.90,
    0.59, 0.70, 0.49, 0.86, 0.56, 0.63, 0.45, 0.77, 0.95, 0.68, 0.53, 0.72,
    0.52, 0.81, 0.67, 0.74, 0.46, 0.90, 0.59, 0.70, 0.49, 0.86, 0.56, 0.63,
    0.45, 0.77, 0.95, 0.68, 0.53, 0.72, 0.52, 0.81, 0.67, 0.74, 0.46, 0.90,
    0.59, 0.70, 0.49, 0.86, 0.56, 0.63, 0.45, 0.77, 0.95, 0.68, 0.53, 0.72,
    0.52, 0.81, 0.67, 0.74, 0.46, 0.90, 0.59, 0.70, 0.49, 0.86, 0.56, 0.63,
    0.45, 0.77, 0.95, 0.68, 0.53, 0.72, 0.52, 0.81, 0.67, 0.74, 0.46, 0.90,
    0.59, 0.70, 0.49, 0.86, 0.56, 0.63, 0.45, 0.77, 0.95, 0.68, 0.53, 0.72,
    0.52, 0.81, 0.67, 0.74, 0.46, 0.90, 0.59, 0.70, 0.49, 0.86, 0.56, 0.63,
    0.45, 0.77, 0.95, 0.68, 0.53, 0.72, 0.52, 0.81, 0.67, 0.74, 0.46, 0.90,
    0.59, 0.70, 0.49, 0.86, 0.56, 0.63, 0.45, 0.77, 0.95]

pearson_low_x = [
    3210, 3685, 5252, 8194, 9471, 13131, 14255, 15005, 11688, 10614,
    1180, 1640, 2130, 2570, 2960, 3950, 4420, 4880, 5710, 6230,
    6640, 7120, 7580, 8560, 8990, 9880, 10290, 11150, 12010, 12480,
    12920, 13550, 14020, 14640]
pearson_low_y = [
    -0.960, -0.956, -0.880, -0.956, -0.956, -0.980, -0.956, -0.907, -0.890, -0.920,
    -0.83, -0.86, -0.82, -0.89, -0.84, -0.87, -0.85, -0.82, -0.90, -0.84,
    -0.86, -0.88, -0.83, -0.85, -0.81, -0.87, -0.84, -0.82, -0.86, -0.83,
    -0.85, -0.88, -0.82, -0.84]

pearson_dense_y = [  # paired with unidad_a
    -0.14, -0.61, 0.03, -0.26, 0.22, -0.08, -0.55, -0.19, -0.01, -0.66,
    0.07, -0.22, -0.69, -0.11, -0.52, 0.15, -0.29, -0.04, -0.58, -0.17,
    -0.24, 0.05, -0.64, -0.13, -0.49, -0.02, 0.28, -0.20, -0.71, -0.09,
    -0.06, -0.57, -0.27, 0.09, -0.67, -0.16, 0.18, -0.53, -0.23, 0.01,
    -0.18, 0.12, -0.60, -0.03, -0.25, -0.70, -0.10, -0.50, 0.06, -0.21,
    -0.14, -0.61, 0.03, -0.26, 0.22, -0.08, -0.55, -0.19, -0.01, -0.66,
    0.07, -0.22, -0.69, -0.11, -0.52, 0.15, -0.29, -0.04, -0.58, -0.17,
    -0.24, 0.05, -0.64, -0.13, -0.49, -0.02, 0.28, -0.20, -0.71, -0.09,
    -0.06, -0.57, -0.27, 0.09, -0.67, -0.16, 0.18, -0.53, -0.23, 0.01,
    -0.18, 0.12, -0.60, -0.03, -0.25, -0.70, -0.10, -0.50, 0.06, -0.21,
    -0.14, -0.61, 0.03, -0.26, 0.22, -0.08, -0.55, -0.19, -0.01, -0.66,
    0.07, -0.22, -0.69, -0.11, -0.52, 0.15, -0.29, -0.04, -0.58, -0.17,
    -0.24, 0.05, -0.64, -0.13, -0.49, -0.02, 0.28, -0.20, -0.71, -0.09,
    -0.06, -0.57, -0.27, 0.09, -0.67, -0.16, 0.18, -0.53, -0.23, 0.01,
    -0.18, 0.12, -0.60, -0.03, -0.25, -0.70, -0.10, -0.50, 0.06, -0.21,
    -0.14, -0.61, 0.03, -0.26, 0.22, -0.08, -0.55, -0.19, -0.01, -0.66,
    0.07, -0.22, -0.69, -0.11, -0.52, 0.15, -0.29, -0.04, -0.58, -0.17,
    -0.24, 0.05, -0.64, -0.13, -0.49, -0.02, 0.28, -0.20, -0.71, -0.09,
    -0.06, -0.57, -0.27, 0.09, -0.67, -0.16, 0.18, -0.53, -0.23, 0.01,
    -0.18, 0.12, -0.60, -0.03, -0.25, -0.70, -0.10, -0.50, 0.06, -0.21,
    -0.14, -0.61, 0.03, -0.26, 0.22, -0.08, -0.55, -0.19, -0.01, -0.66,
    0.07, -0.22, -0.69, -0.11, -0.52, 0.15, -0.29, -0.04, -0.58, -0.17,
    -0.24, 0.05, -0.64, -0.13, -0.49, -0.02, 0.28, -0.20, -0.71, -0.09,
    -0.06, -0.57, -0.27, 0.09, -0.67, -0.16, 0.18, -0.53, -0.23, 0.01,
    -0.18, 0.12, -0.60, -0.03, -0.25, -0.70, -0.10, -0.50, 0.06, -0.21,
    -0.14, -0.61, 0.03, -0.26, 0.22, -0.08, -0.55, -0.19, -0.01, -0.66,
    0.07, -0.22, -0.69, -0.11, -0.52, 0.15, -0.29, -0.04, -0.58, -0.17,
    -0.24, 0.05, -0.64, -0.13, -0.49, -0.02, 0.28, -0.20, -0.71, -0.09,
    -0.06, -0.57, -0.27, 0.09, -0.67, -0.16, 0.18, -0.53, -0.23, 0.01,
    -0.18, 0.12, -0.60, -0.03, -0.25, -0.70, -0.10, -0.50, 0.06, -0.21,
    -0.14, -0.61, 0.03, -0.26, 0.22, -0.08, -0.55, -0.19, -0.01, -0.66,
    0.07, -0.22, -0.69, -0.11, -0.52, 0.15, -0.29, -0.04, -0.58, -0.17,
    -0.24, 0.05, -0.64, -0.13, -0.49, -0.02, 0.28, -0.20, -0.71, -0.09,
    -0.06, -0.57, -0.27, 0.09, -0.67, -0.16, 0.18, -0.53, -0.23, 0.01,
    -0.18, 0.12, -0.60, -0.03, -0.25, -0.70, -0.10, -0.50, 0.06, -0.21,
    -0.14, -0.61, 0.03, -0.26, 0.22, -0.08, -0.55, -0.19, -0.01, -0.66,
    0.07, -0.22, -0.69, -0.11, -0.52, 0.15, -0.29, -0.04, -0.58, -0.17,
    -0.24, 0.05, -0.64, -0.13, -0.49, -0.02, 0.28, -0.20, -0.71, -0.09,
    -0.06, -0.57, -0.27, 0.09, -0.67, -0.16, 0.18, -0.53, -0.23, 0.01,
    -0.18, 0.12, -0.60, -0.03, -0.25, -0.70, -0.10, -0.50, 0.06, -0.21,
    -0.14, -0.61, 0.03, -0.26, 0.22, -0.08, -0.55, -0.19, -0.01, -0.66,
    0.07, -0.22, -0.69, -0.11, -0.52, 0.15, -0.29, -0.04, -0.58, -0.17,
    -0.24, 0.05, -0.64, -0.13, -0.49, -0.02, 0.28, -0.20, -0.71, -0.09,
    -0.06, -0.57, -0.27, 0.09, -0.67, -0.16, 0.18, -0.53, -0.23, 0.01,
    -0.18, 0.12, -0.60, -0.03, -0.25, -0.70, -0.10, -0.50, 0.06, -0.21,
    -0.14, -0.61, 0.03, -0.26, 0.22, -0.08, -0.55, -0.19, -0.01, -0.66,
    0.07, -0.22, -0.69, -0.11, -0.52, 0.15, -0.29, -0.04, -0.58, -0.17]

pearson_core_y = [  # paired with unidad_c
    -0.12, 0.31, -0.64, 0.04, -0.21, -0.38, 0.18, -0.05, -0.57, 0.44, -0.17, 0.02, -0.73, -0.09, 0.25, -0.29, -0.61, 0.08, -0.23, 0.12,
    0.06, -0.19, -0.55, 0.37, -0.02, -0.44, -0.14, 0.21, -0.68, -0.25, 0.15, -0.08, -0.33, -0.62, 0.49, -0.16, 0.01, -0.78, -0.11, 0.27,
    -0.22, 0.09, -0.47, -0.06, 0.34, -0.59, -0.15, 0.13, -0.27, -0.70, 0.03, -0.19, 0.41, -0.52, -0.10, 0.22, -0.36, -0.66, -0.01, -0.24,
    0.17, -0.07, -0.63, -0.20, 0.29, -0.41, 0.05, -0.13, -0.56, 0.38, -0.26, -0.04, -0.75, 0.11, -0.18, -0.31, 0.47, -0.60, -0.09, 0.00,
    -0.15, -0.50, 0.24, -0.03, -0.67, -0.21, 0.14, -0.35, 0.07, -0.11, -0.58, 0.33, -0.18, -0.43, 0.02, -0.65, -0.24, 0.19, -0.08, -0.80,
    0.10, -0.26, -0.61, -0.13, 0.42, -0.02, -0.48, -0.19, 0.28, -0.69, -0.06, -0.32, 0.16, -0.54, -0.22, 0.05, -0.12, 0.36, -0.64, -0.16,
    -0.04, 0.20, -0.57, -0.23, -0.39, 0.12, -0.10, -0.71, 0.30, -0.17, -0.62, 0.03, -0.28, 0.45, -0.14, -0.52, -0.01, 0.08, -0.20, -0.66,
    -0.18, 0.39, -0.07, -0.59, 0.14, -0.24, -0.45, 0.01, -0.68, 0.23, -0.12, -0.34, -0.55, 0.06, -0.21, 0.48, -0.76, -0.09, 0.17, -0.03,
    -0.12, 0.31, -0.64, 0.04, -0.21, -0.38, 0.18, -0.05, -0.57, 0.44, -0.17, 0.02, -0.73, -0.09, 0.25, -0.29, -0.61, 0.08, -0.23, 0.12,
    0.06, -0.19, -0.55, 0.37, -0.02, -0.44, -0.14, 0.21, -0.68, -0.25, 0.15, -0.08, -0.33, -0.62, 0.49, -0.16, 0.01, -0.78, -0.11, 0.27,
    -0.22, 0.09, -0.47, -0.06, 0.34, -0.59, -0.15, 0.13, -0.27, -0.70, 0.03, -0.19, 0.41, -0.52, -0.10, 0.22, -0.36, -0.66, -0.01, -0.24,
    0.17, -0.07, -0.63, -0.20, 0.29, -0.41, 0.05, -0.13, -0.56, 0.38, -0.26, -0.04, -0.75, 0.11, -0.18, -0.31, 0.47, -0.60, -0.09, 0.00,
    -0.15, -0.50, 0.24, -0.03, -0.67, -0.21, 0.14, -0.35, 0.07, -0.11, -0.58, 0.33, -0.18, -0.43, 0.02, -0.65, -0.24, 0.19, -0.08, -0.80,
    0.10, -0.26, -0.61, -0.13, 0.42, -0.02, -0.48, -0.19, 0.28, -0.69, -0.06, -0.32, 0.16, -0.54, -0.22, 0.05, -0.12, 0.36, -0.64, -0.16,
    -0.04, 0.20, -0.57, -0.23, -0.39, 0.12, -0.10, -0.71, 0.30, -0.17, -0.62, 0.03, -0.28, 0.45, -0.14, -0.52, -0.01, 0.08, -0.20, -0.66,
    -0.18, 0.39, -0.07, -0.59, 0.14, -0.24, -0.45, 0.01, -0.68, 0.23, -0.12, -0.34, -0.55, 0.06, -0.21, 0.48, -0.76, -0.09, 0.17, -0.03,
    -0.12, 0.31, -0.64, 0.04, -0.21, -0.38, 0.18, -0.05, -0.57, 0.44, -0.17, 0.02, -0.73, -0.09, 0.25, -0.29, -0.61, 0.08, -0.23, 0.12,
    0.06, -0.19, -0.55, 0.37, -0.02, -0.44, -0.14, 0.21, -0.68, -0.25, 0.15, -0.08, -0.33, -0.62, 0.49, -0.16, 0.01, -0.78, -0.11, 0.27,
    -0.22, 0.09, -0.47, -0.06, 0.34, -0.59, -0.15, 0.13, -0.27, -0.70, 0.03, -0.19, 0.41, -0.52, -0.10, 0.22, -0.36, -0.66, -0.01, -0.24,
    0.17, -0.07, -0.63, -0.20, 0.29, -0.41, 0.05, -0.13, -0.56, 0.38, -0.26, -0.04, -0.75, 0.11, -0.18, -0.31, 0.47, -0.60, -0.09, 0.00,
    -0.15, -0.50, 0.24, -0.03, -0.67, -0.21, 0.14, -0.35, 0.07, -0.11, -0.58, 0.33, -0.18, -0.43, 0.02, -0.65, -0.24, 0.19, -0.08, -0.80,
    0.10, -0.26, -0.61, -0.13, 0.42, -0.02, -0.48, -0.19, 0.28, -0.69, -0.06, -0.32, 0.16, -0.54, -0.22, 0.05, -0.12, 0.36, -0.64, -0.16,
    -0.04, 0.20, -0.57, -0.23, -0.39, 0.12, -0.10, -0.71, 0.30, -0.17, -0.62, 0.03, -0.28, 0.45, -0.14, -0.52, -0.01, 0.08, -0.20, -0.66,
    -0.18, 0.39, -0.07, -0.59, 0.14, -0.24, -0.45, 0.01, -0.68, 0.23, -0.12, -0.34, -0.55, 0.06, -0.21, 0.48, -0.76, -0.09, 0.17, -0.03,
    -0.12, 0.31, -0.64, 0.04, -0.21, -0.38, 0.18, -0.05, -0.57, 0.44, -0.17, 0.02, -0.73, -0.09, 0.25, -0.29, -0.61, 0.08, -0.23, 0.12,
    0.06, -0.19, -0.55, 0.37, -0.02, -0.44, -0.14, 0.21, -0.68, -0.25, 0.15, -0.08, -0.33, -0.62, 0.49, -0.16, 0.01, -0.78, -0.11, 0.27,
    -0.22, 0.09, -0.47, -0.06, 0.34, -0.59, -0.15, 0.13, -0.27, -0.70, 0.03, -0.19, 0.41, -0.52, -0.10, 0.22, -0.36, -0.66, -0.01, -0.24,
    0.17, -0.07, -0.63, -0.20, 0.29, -0.41, 0.05, -0.13, -0.56, 0.38, -0.26, -0.04, -0.75, 0.11, -0.18, -0.31, 0.47, -0.60, -0.09, 0.00,
    -0.15, -0.50, 0.24, -0.03, -0.67, -0.21, 0.14, -0.35, 0.07, -0.11, -0.58, 0.33, -0.18, -0.43, 0.02, -0.65, -0.24, 0.19, -0.08, -0.80,
    0.10, -0.26, -0.61, -0.13, 0.42, -0.02, -0.48, -0.19, 0.28, -0.69, -0.06, -0.32, 0.16, -0.54, -0.22, 0.05, -0.12, 0.36, -0.64, -0.16,
    -0.04, 0.20, -0.57, -0.23, -0.39, 0.12, -0.10, -0.71, 0.30, -0.17, -0.62, 0.03, -0.28, 0.45, -0.14, -0.52, -0.01, 0.08, -0.20, -0.66,
    -0.18, 0.39, -0.07, -0.59, 0.14, -0.24, -0.45, 0.01, -0.68, 0.23, -0.12, -0.34, -0.55, 0.06, -0.21, 0.48, -0.76, -0.09, 0.17, -0.03,
    -0.12, 0.31, -0.64, 0.04, -0.21, -0.38, 0.18, -0.05, -0.57, 0.44, -0.17, 0.02, -0.73, -0.09, 0.25, -0.29, -0.61, 0.08, -0.23, 0.12,
    0.06, -0.19, -0.55, 0.37, -0.02, -0.44, -0.14, 0.21, -0.68, -0.25, 0.15, -0.08, -0.33, -0.62, 0.49, -0.16, 0.01, -0.78, -0.11, 0.27,
    -0.22, 0.09, -0.47, -0.06, 0.34, -0.59, -0.15, 0.13, -0.27, -0.70, 0.03, -0.19, 0.41, -0.52, -0.10, 0.22, -0.36, -0.66, -0.01, -0.24,
    0.17, -0.07, -0.63, -0.20, 0.29, -0.41, 0.05, -0.13, -0.56, 0.38, -0.26, -0.04, -0.75, 0.11, -0.18, -0.31, 0.47, -0.60, -0.09, 0.00,
    -0.15, -0.50, 0.24, -0.03, -0.67, -0.21, 0.14, -0.35, 0.07, -0.11, -0.58, 0.33, -0.18, -0.43, 0.02, -0.65, -0.24, 0.19, -0.08, -0.80,
    0.10, -0.26, -0.61, -0.13, 0.42, -0.02, -0.48, -0.19, 0.28, -0.69, -0.06, -0.32, 0.16, -0.54, -0.22, 0.05, -0.12, 0.36, -0.64, -0.16,
    -0.04, 0.20, -0.57, -0.23, -0.39, 0.12, -0.10, -0.71, 0.30, -0.17, -0.62, 0.03, -0.28, 0.45, -0.14, -0.52, -0.01, 0.08, -0.20, -0.66,
    -0.18, 0.39, -0.07, -0.59, 0.14, -0.24, -0.45, 0.01, -0.68, 0.23, -0.12, -0.34, -0.55, 0.06, -0.21, 0.48, -0.76, -0.09, 0.17, -0.03,
    -0.12, 0.31, -0.64, 0.04, -0.21, -0.38, 0.18, -0.05, -0.57, 0.44, -0.17, 0.02, -0.73, -0.09, 0.25, -0.29, -0.61, 0.08, -0.23, 0.12,
    0.06, -0.19, -0.55, 0.37, -0.02, -0.44, -0.14, 0.21, -0.68, -0.25, 0.15, -0.08, -0.33, -0.62, 0.49, -0.16, 0.01, -0.78, -0.11, 0.27,
    -0.22, 0.09, -0.47, -0.06, 0.34, -0.59, -0.15, 0.13, -0.27, -0.70, 0.03, -0.19, 0.41, -0.52, -0.10, 0.22, -0.36, -0.66, -0.01, -0.24,
    0.17, -0.07, -0.63, -0.20, 0.29, -0.41, 0.05, -0.13, -0.56, 0.38, -0.26, -0.04, -0.75, 0.11, -0.18, -0.31, 0.47, -0.60, -0.09, 0.00,
    -0.15, -0.50, 0.24, -0.03, -0.67, -0.21, 0.14, -0.35, 0.07, -0.11, -0.58, 0.33, -0.18, -0.43, 0.02, -0.65, -0.24, 0.19, -0.08, -0.80,
    0.10, -0.26, -0.61, -0.13, 0.42, -0.02, -0.48, -0.19, 0.28, -0.69, -0.06, -0.32, 0.16, -0.54, -0.22, 0.05, -0.12, 0.36, -0.64, -0.16,
    -0.04, 0.20, -0.57, -0.23, -0.39, 0.12, -0.10, -0.71, 0.30, -0.17, -0.62, 0.03, -0.28, 0.45, -0.14, -0.52, -0.01, 0.08, -0.20, -0.66]

x_tick_vals = [2000, 4000, 6000, 8000, 10000, 12000, 14000]
x_tick_text = ["2000", "", "6000", "", "10000", "", "14000"]
cook_tick_vals = [0.00, 0.02, 0.04, 0.06, 0.08]
cook_tick_text = ["0.00", "0.02", "0.04", "0.06", "0.08"]
pear_tick_vals = [-1, 0, 1, 2, 3]
pear_tick_text = ["-1", "0", "1", "2", "3"]

# ---------------- layout geometry (pixels of the 762x373 picture) ----------------
W, H = 762, 373
FONT = "Liberation Sans, Arial, Helvetica, sans-serif"
TXT = "#222222"
AXC = "#444444"


def fx(p):
    return p / W


def fy(p):
    return (H - p) / H


def ring(width):
    return dict(symbol="circle-open", size=5.8, color="black", line=dict(width=width, color="black"))


fig = go.Figure()
fig.add_trace(go.Scatter(x=unidad_a + unidad_c, y=cook_band_y + cook_core_y, mode="markers",
                         marker=ring(1.5), xaxis="x", yaxis="y", hoverinfo="skip", showlegend=False))
fig.add_trace(go.Scatter(x=unidad_b + cook_out_x, y=cook_mid_y + cook_out_y, mode="markers",
                         marker=ring(1.0), xaxis="x", yaxis="y", hoverinfo="skip", showlegend=False))
fig.add_trace(go.Scatter(x=unidad_c + unidad_a, y=pearson_core_y + pearson_dense_y,
                         mode="markers", marker=ring(1.7),
                         xaxis="x2", yaxis="y2", hoverinfo="skip", showlegend=False))
fig.add_trace(go.Scatter(
    x=pearson_mid_x + unidad_b + pearson_left_x + pearson_upper_x + pearson_high_x + pearson_low_x,
    y=pearson_mid_y + pearson_mid2_y + pearson_left_y + pearson_upper_y + pearson_high_y + pearson_low_y,
    mode="markers", marker=ring(1.1), xaxis="x2", yaxis="y2",
    hoverinfo="skip", showlegend=False))

tickfont = dict(family=FONT, size=13, color=TXT)
common_x = dict(tickmode="array", tickvals=x_tick_vals, ticktext=x_tick_text, ticks="outside",
                ticklen=7, tickwidth=1, tickcolor=AXC, showgrid=False, zeroline=False,
                showline=False, tickfont=tickfont, ticklabelstandoff=6)
common_y = dict(tickmode="array", ticks="outside", ticklen=7, tickwidth=1, tickcolor=AXC,
                showgrid=False, zeroline=False, showline=False, tickfont=tickfont,
                tickangle=-90, ticklabelstandoff=8)

ydom = [fy(303), fy(9)]
fig.update_layout(
    width=W, height=H, margin=dict(l=0, r=0, t=0, b=0),
    paper_bgcolor="white", plot_bgcolor="white", showlegend=False,
    xaxis=dict(domain=[fx(74), fx(372)], range=[410, 15692], anchor="y", **common_x),
    yaxis=dict(domain=ydom, range=[-0.003235, 0.083235], anchor="x",
               tickvals=cook_tick_vals, ticktext=cook_tick_text, **common_y),
    xaxis2=dict(domain=[fx(472), 1.0], range=[468, 15277], anchor="y2", **common_x),
    yaxis2=dict(domain=ydom, range=[-1.1618, 3.1618], anchor="x2",
                tickvals=pear_tick_vals, ticktext=pear_tick_text, **common_y),
    shapes=[
        dict(type="rect", xref="paper", yref="paper", x0=fx(74), x1=fx(372), y0=fy(303), y1=fy(9),
             line=dict(color=AXC, width=1), fillcolor="rgba(0,0,0,0)", layer="above"),
        dict(type="rect", xref="paper", yref="paper", x0=fx(472), x1=fx(771), y0=fy(303), y1=fy(9),
             line=dict(color=AXC, width=1), fillcolor="rgba(0,0,0,0)", layer="above"),
    ],
    annotations=[
        dict(text="Unidad Experimental", xref="paper", yref="paper", x=fx(223), y=fy(360),
             showarrow=False, xanchor="center", yanchor="middle", font=tickfont),
        dict(text="Unidad Experimental", xref="paper", yref="paper", x=fx(620), y=fy(360),
             showarrow=False, xanchor="center", yanchor="middle", font=tickfont),
        dict(text="Distancia de Cook", xref="paper", yref="paper", x=fx(28), y=fy(156),
             showarrow=False, textangle=-90, xanchor="center", yanchor="middle", font=tickfont),
        dict(text="Residual de Pearson", xref="paper", yref="paper", x=fx(417), y=fy(157),
             showarrow=False, textangle=-90, xanchor="center", yanchor="middle", font=tickfont),
    ],
)

fig.write_html("out.html", include_plotlyjs=True, full_html=True,
               config={"displayModeBar": False},
               post_script="document.body.style.margin='0px';document.body.style.overflow='hidden';")
